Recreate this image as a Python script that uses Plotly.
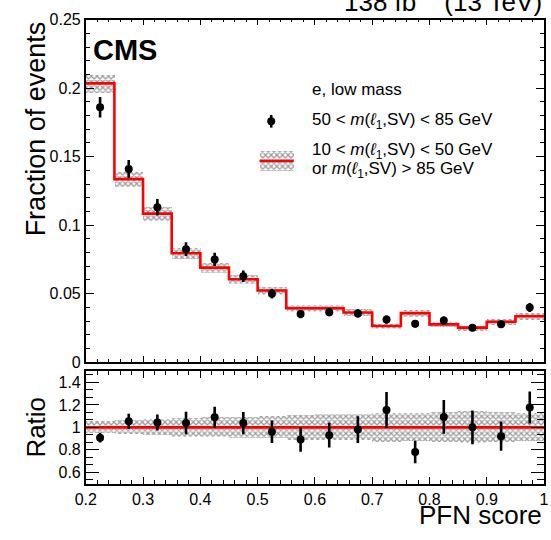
import plotly.graph_objects as go

# ---------------- data ----------------
bin_edges = [0.2, 0.25, 0.3, 0.35, 0.4, 0.45, 0.5, 0.55, 0.6, 0.65, 0.7, 0.75, 0.8, 0.85, 0.9, 0.95, 1.0]
bin_centers = [0.225, 0.275, 0.325, 0.375, 0.425, 0.475, 0.525, 0.575, 0.625, 0.675, 0.725, 0.775, 0.825, 0.875, 0.925, 0.975]

# background: 10 < m < 50 GeV or m > 85 GeV
bkg = [0.2035, 0.1336, 0.1084, 0.0795, 0.069, 0.0605, 0.0523, 0.0394, 0.0394, 0.0363, 0.0264, 0.0358, 0.0276, 0.0252, 0.0295, 0.0335]
bkg_unc = [0.0065, 0.0052, 0.0050, 0.0042, 0.0038, 0.0034, 0.0029, 0.0024, 0.0026, 0.0025, 0.0021, 0.0026, 0.0019, 0.0018, 0.0021, 0.0024]

# 50 < m < 85 GeV
data = [0.186, 0.141, 0.113, 0.0825, 0.075, 0.0628, 0.050, 0.0351, 0.0365, 0.0356, 0.0311, 0.0281, 0.0304, 0.0252, 0.0276, 0.0399]
data_err = [0.0075, 0.0065, 0.0060, 0.0050, 0.0048, 0.0042, 0.0036, 0.0030, 0.0030, 0.0030, 0.0030, 0.0027, 0.0030, 0.0026, 0.0027, 0.0033]

ratio = [0.908, 1.055, 1.043, 1.038, 1.09, 1.038, 0.96, 0.893, 0.93, 0.98, 1.154, 0.78, 1.093, 1.0, 0.922, 1.177]
ratio_err = [0.043, 0.067, 0.072, 0.10, 0.094, 0.099, 0.10, 0.11, 0.11, 0.12, 0.16, 0.10, 0.15, 0.15, 0.13, 0.143]
ratio_band = [0.052, 0.061, 0.070, 0.083, 0.087, 0.094, 0.10, 0.11, 0.113, 0.113, 0.129, 0.123, 0.136, 0.142, 0.135, 0.125]

x_ticks = [0.2, 0.3, 0.4, 0.5, 0.6, 0.7, 0.8, 0.9, 1.0]
x_tick_labels = ["0.2", "0.3", "0.4", "0.5", "0.6", "0.7", "0.8", "0.9", "1"]

# ---------------- style ----------------
W, H = 551, 540
FONT = "Liberation Sans, Arial, Helvetica, sans-serif"
RED = "#ff0000"
HATCH = dict(shape="x", fgcolor="#3a3a3a", bgcolor="rgba(0,0,0,0)", size=4, solidity=0.55)
bin_w = [bin_edges[i + 1] - bin_edges[i] for i in range(len(bin_centers))]

fig = go.Figure()

# upper panel: uncertainty band
fig.add_trace(go.Bar(
    x=bin_centers, y=[2 * u for u in bkg_unc], base=[b - u for b, u in zip(bkg, bkg_unc)],
    width=bin_w, marker=dict(color="rgba(0,0,0,0)", pattern=HATCH, line=dict(width=0)),
    xaxis="x", yaxis="y", showlegend=False, hoverinfo="skip"))
# upper panel: background histogram
fig.add_trace(go.Scatter(
    x=bin_edges, y=bkg + [bkg[-1]], mode="lines", line=dict(color=RED, width=2.6, shape="hv"),
    xaxis="x", yaxis="y", showlegend=False))
# upper panel: data points
fig.add_trace(go.Scatter(
    x=bin_centers, y=data, mode="markers",
    marker=dict(color="black", size=8),
    error_y=dict(type="data", array=data_err, color="black", thickness=2.6, width=0),
    xaxis="x", yaxis="y", showlegend=False))

# lower panel: band
fig.add_trace(go.Bar(
    x=bin_centers, y=[2 * r for r in ratio_band], base=[1 - r for r in ratio_band],
    width=bin_w, marker=dict(color="rgba(0,0,0,0)", pattern=HATCH, line=dict(width=0)),
    xaxis="x2", yaxis="y2", showlegend=False, hoverinfo="skip"))
fig.add_trace(go.Scatter(
    x=bin_edges, y=[1.0] * len(bin_edges), mode="lines", line=dict(color=RED, width=2.6),
    xaxis="x2", yaxis="y2", showlegend=False))
fig.add_trace(go.Scatter(
    x=bin_centers, y=ratio, mode="markers",
    marker=dict(color="black", size=8),
    error_y=dict(type="data", array=ratio_err, color="black", thickness=2.6, width=0),
    xaxis="x2", yaxis="y2", showlegend=False))

# legend glyphs (pixel-coordinate overlay axes)
fig.add_trace(go.Scatter(
    x=[268], y=[117], mode="markers", marker=dict(color="black", size=8),
    error_y=dict(type="data", array=[6.5], color="black", thickness=2.6, width=0),
    xaxis="x3", yaxis="y3", showlegend=False))
fig.add_trace(go.Bar(
    x=[273.5], y=[20], base=[148], width=[35],
    marker=dict(color="rgba(0,0,0,0)", pattern=HATCH, line=dict(width=0)),
    xaxis="x3", yaxis="y3", showlegend=False))
fig.add_trace(go.Scatter(
    x=[256, 291], y=[158, 158], mode="lines", line=dict(color=RED, width=2.6),
    xaxis="x3", yaxis="y3", showlegend=False))

# ---------------- axes ----------------
x0, x1 = 77 / W, 549 / W
up_dom = [(H - 365.7) / H, (H - 12) / H]
lo_dom = [(H - 491) / H, (H - 375) / H]

common = dict(showline=True, linecolor="black", linewidth=1.6, mirror="allticks",
              ticks="inside", tickcolor="black", tickwidth=1, showgrid=False, zeroline=False,
              ticklabeloverflow="allow",
              tickfont=dict(family=FONT, size=16, color="black"))

fig.update_layout(
    width=W, height=H, margin=dict(l=0, r=0, t=0, b=0),
    paper_bgcolor="white", plot_bgcolor="rgba(0,0,0,0)",
    barmode="overlay", bargap=0, showlegend=False,
    font=dict(family=FONT, color="black"),
    xaxis=dict(domain=[x0, x1], anchor="y", range=[0.2, 1.0], tickvals=x_ticks,
               showticklabels=False, ticklen=6,
               minor=dict(dtick=0.02, tick0=0.2, ticks="inside", ticklen=3, tickcolor="black"),
               **common),
    yaxis=dict(domain=up_dom, anchor="x", range=[0, 0.25], dtick=0.05, tick0=0, ticklen=8,
               minor=dict(dtick=0.01, tick0=0, ticks="inside", ticklen=4, tickcolor="black"),
               **common),
    xaxis2=dict(domain=[x0, x1], anchor="y2", range=[0.2, 1.0], tickvals=x_ticks,
                ticktext=x_tick_labels, ticklen=7, matches="x",
                minor=dict(dtick=0.02, tick0=0.2, ticks="inside", ticklen=4, tickcolor="black"),
                **common),
    yaxis2=dict(domain=lo_dom, anchor="x2", range=[0.5, 1.5], dtick=0.2, tick0=0, ticklen=13,
                minor=dict(dtick=0.2 / 3, tick0=0, ticks="inside", ticklen=7, tickcolor="black"),
                **common),
    xaxis3=dict(domain=[0, 1], anchor="y3", range=[0, W], visible=False, fixedrange=True),
    yaxis3=dict(domain=[0, 1], anchor="x3", range=[H, 0], visible=False, fixedrange=True),
)

def txt(text, x, y, size, xanchor="left", yanchor="middle", angle=0):
    fig.add_annotation(text=text, x=x, y=y, xref="x3", yref="y3", showarrow=False,
                       xanchor=xanchor, yanchor=yanchor, textangle=angle,
                       font=dict(family=FONT, size=size, color="black"))

txt("<b>CMS</b>", 82, 43, 29)
txt("138 fb<sup>−1</sup> (13 TeV)", 549, 11, 26, xanchor="right", yanchor="bottom")
txt("e, low mass", 308, 84, 17)
txt("50 < <i>m</i>(<i>ℓ</i><sub>1</sub>,SV) < 85 GeV", 308, 117, 17)
txt("10 < <i>m</i>(<i>ℓ</i><sub>1</sub>,SV) < 50 GeV", 308, 148, 17)
txt("or <i>m</i>(<i>ℓ</i><sub>1</sub>,SV) > 85 GeV", 308, 167, 17)
txt("PFN score", 549, 523, 26, xanchor="right")
txt("Fraction of events", 26, 12, 27, xanchor="center", yanchor="top", angle=-90)
txt("Ratio", 26, 433, 26, xanchor="center", angle=-90)

fig.write_html(
    "out.html",
    config={"displayModeBar": False},
    post_script="document.body.style.margin='0';document.body.style.overflow='hidden';",
)
